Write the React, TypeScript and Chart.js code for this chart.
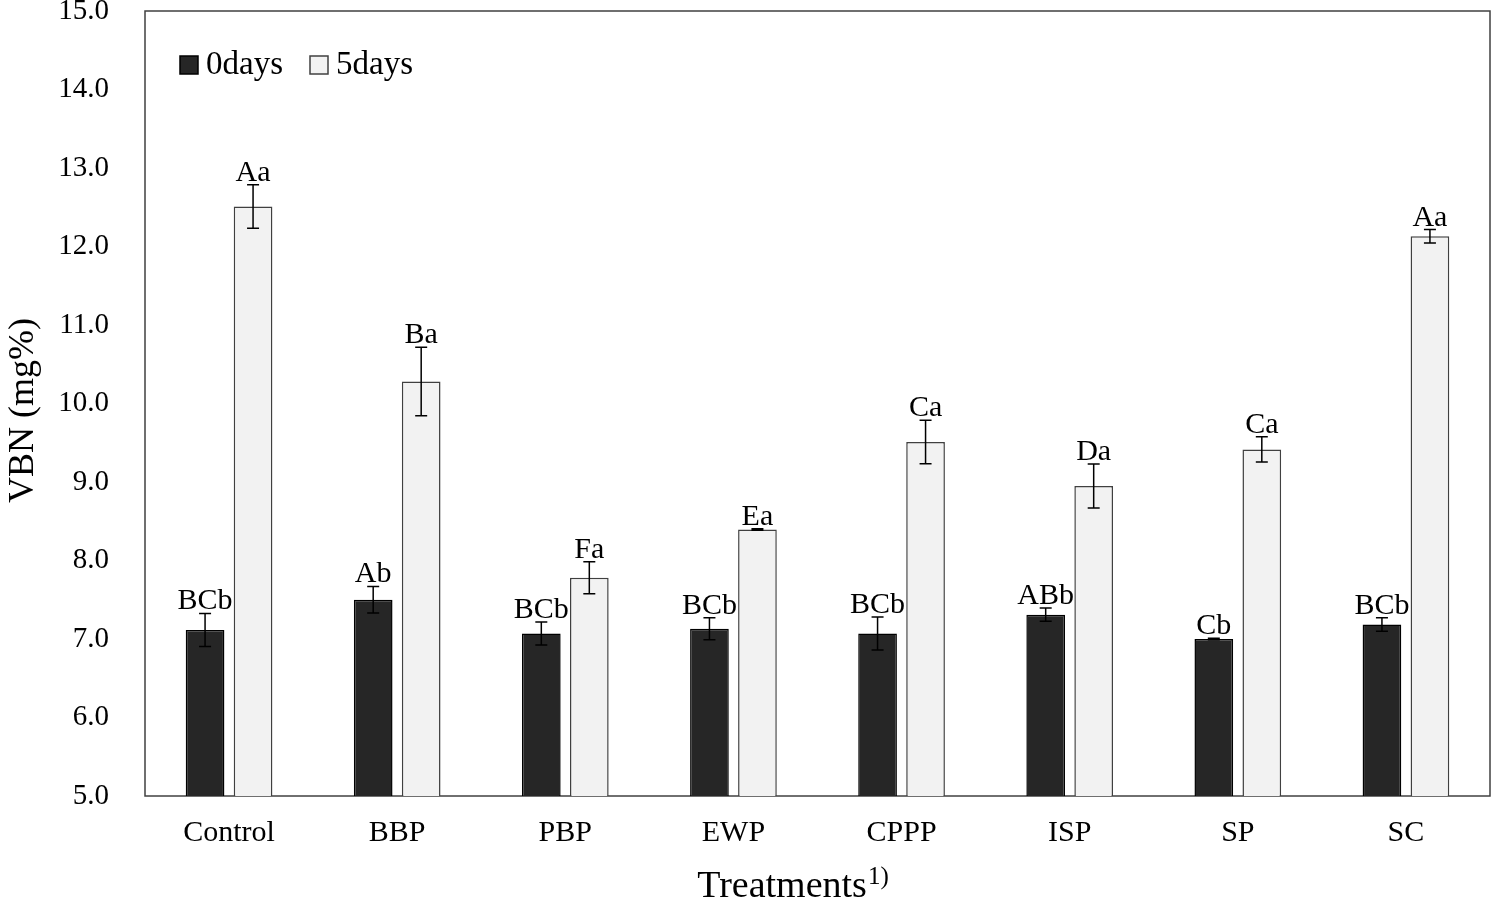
import React, { useEffect, useRef } from "react";
import { Chart, registerables } from "chart.js";

Chart.register(...registerables);

const categories = ["Control", "BBP", "PBP", "EWP", "CPPP", "ISP", "SP", "SC"];
const days0 = [7.115, 7.5, 7.07, 7.13, 7.07, 7.31, 7.0, 7.185];
const days5 = [12.51, 10.28, 7.78, 8.395, 9.51, 8.95, 9.415, 12.13];
const err0 = [0.21, 0.17, 0.145, 0.14, 0.21, 0.085, 0.01, 0.085];
const err5 = [0.277, 0.435, 0.205, 0.01, 0.276, 0.28, 0.16, 0.085];
const letters0 = ["BCb", "Ab", "BCb", "BCb", "BCb", "ABb", "Cb", "BCb"];
const letters5 = ["Aa", "Ba", "Fa", "Ea", "Ca", "Da", "Ca", "Aa"];
const seriesNames = ["0days", "5days"];
const yTicks = { min: 5, max: 15, step: 1 };
const yTitle = "VBN (mg%)";
const xTitle = "Treatments";
const xTitleSup = "1)";

const FONT = "'Liberation Serif', 'Times New Roman', serif";

const overlayPlugin = {
  id: "overlay",
  beforeDatasetsDraw(chart: any) {
    const { ctx, chartArea } = chart;
    ctx.save();
    ctx.strokeStyle = "#404040";
    ctx.lineWidth = 1.5;
    ctx.strokeRect(chartArea.left, chartArea.top, chartArea.right - chartArea.left, chartArea.bottom - chartArea.top);
    ctx.restore();
  },
  afterDatasetsDraw(chart: any) {
    const { ctx, chartArea } = chart;
    const yScale = chart.scales.y;
    const errs = [err0, err5];
    const letters = [letters0, letters5];
    ctx.save();
    chart.data.datasets.forEach((ds: any, di: number) => {
      const meta = chart.getDatasetMeta(di);
      meta.data.forEach((bar: any, i: number) => {
        const v = ds.data[i];
        const e = errs[di][i];
        const x = bar.x;
        const yT = yScale.getPixelForValue(v + e);
        const yB = yScale.getPixelForValue(v - e);
        ctx.strokeStyle = "#000";
        ctx.lineWidth = 1.5;
        ctx.beginPath();
        ctx.moveTo(x, yT);
        ctx.lineTo(x, yB);
        ctx.moveTo(x - 6, yT);
        ctx.lineTo(x + 6, yT);
        ctx.moveTo(x - 6, yB);
        ctx.lineTo(x + 6, yB);
        ctx.stroke();
        ctx.fillStyle = "#000";
        ctx.font = `30px ${FONT}`;
        ctx.textAlign = "center";
        ctx.textBaseline = "alphabetic";
        ctx.fillText(letters[di][i], x, Math.min(yT, bar.y) - 4);
      });
    });

    // legend
    const lx = chartArea.left + 35;
    const ly = chartArea.top + 45;
    const fills = ["#262626", "#f2f2f2"];
    const strokes = ["#000", "#404040"];
    const offsets = [0, 130];
    ctx.font = `33px ${FONT}`;
    ctx.textAlign = "left";
    seriesNames.forEach((name, k) => {
      const bx = lx + offsets[k];
      ctx.fillStyle = fills[k];
      ctx.fillRect(bx, ly, 18, 18);
      ctx.strokeStyle = strokes[k];
      ctx.lineWidth = 1.5;
      ctx.strokeRect(bx, ly, 18, 18);
      ctx.fillStyle = "#000";
      ctx.fillText(name, bx + 26, ly + 18);
    });

    // y title
    ctx.save();
    ctx.font = `36px ${FONT}`;
    ctx.translate(33, (chartArea.top + chartArea.bottom) / 2 + 7);
    ctx.rotate(-Math.PI / 2);
    ctx.textAlign = "center";
    ctx.textBaseline = "alphabetic";
    ctx.fillText(yTitle, 0, 0);
    ctx.restore();

    // x title with superscript
    ctx.font = `38px ${FONT}`;
    const w1 = ctx.measureText(xTitle).width;
    ctx.font = `25px ${FONT}`;
    const w2 = ctx.measureText(xTitleSup).width;
    const cx = (chartArea.left + chartArea.right) / 2 - 25;
    const sx = cx - (w1 + w2) / 2;
    ctx.textAlign = "left";
    ctx.font = `38px ${FONT}`;
    ctx.fillText(xTitle, sx, 897);
    ctx.font = `25px ${FONT}`;
    ctx.fillText(xTitleSup, sx + w1 + 1, 884);
    ctx.restore();
  },
};

export default function App() {
  const ref = useRef<HTMLCanvasElement | null>(null);
  useEffect(() => {
    if (!ref.current) return;
    const chart = new Chart(ref.current, {
      type: "bar",
      data: {
        labels: categories,
        datasets: [
          {
            label: seriesNames[0],
            data: days0,
            backgroundColor: "#262626",
            borderColor: "#000",
            borderWidth: 1.5,
            barPercentage: 0.806,
            categoryPercentage: 0.571,
          },
          {
            label: seriesNames[1],
            data: days5,
            backgroundColor: "#f2f2f2",
            borderColor: "#404040",
            borderWidth: 1.5,
            barPercentage: 0.806,
            categoryPercentage: 0.571,
          },
        ],
      },
      options: {
        responsive: false,
        animation: false,
        devicePixelRatio: 1,
        layout: { padding: { top: 11, right: 6, left: 0, bottom: 0 } },
        plugins: {
          legend: { display: false },
          tooltip: { enabled: false },
        },
        scales: {
          x: {
            grid: { display: false, drawTicks: false },
            border: { display: false },
            ticks: {
              color: "#000",
              font: { family: FONT, size: 30, lineHeight: 1 },
              padding: 22,
              maxRotation: 0,
            },
            afterFit(scale: any) {
              scale.height = 107;
            },
          },
          y: {
            min: yTicks.min,
            max: yTicks.max,
            grid: { display: false, drawTicks: true, tickLength: 36 },
            border: { display: false },
            ticks: {
              stepSize: yTicks.step,
              color: "#000",
              font: { family: FONT, size: 29, lineHeight: 0.7 },
              padding: 0,
              callback: (v: any) => Number(v).toFixed(1),
            },
            afterFit(scale: any) {
              scale.width = 145;
            },
          },
        },
      },
      plugins: [overlayPlugin],
    });
    return () => chart.destroy();
  }, []);
  return (
    <div style={{ position: "fixed", left: 0, top: 0, width: 1496, height: 903, background: "#fff" }}>
      <canvas ref={ref} width={1496} height={903} style={{ width: 1496, height: 903 }} />
    </div>
  );
}
